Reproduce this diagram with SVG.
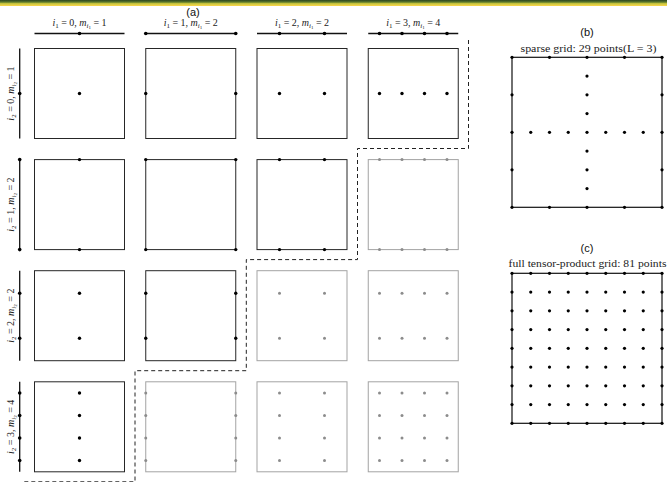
<svg xmlns="http://www.w3.org/2000/svg" xmlns:xlink="http://www.w3.org/1999/xlink" width="667" height="482" viewBox="0 0 667 482">
<defs>
<linearGradient id="bar" x1="0" y1="0" x2="0" y2="1">
<stop offset="0" stop-color="#2c4620"/>
<stop offset="0.35" stop-color="#5d7a2c"/>
<stop offset="0.6" stop-color="#c9c63e"/>
<stop offset="1" stop-color="#fbd64a"/>
</linearGradient>
<g id="row9" class="d">
<circle cx="0" cy="0" r="1.6"/><circle cx="18.75" cy="0" r="1.6"/><circle cx="37.5" cy="0" r="1.6"/><circle cx="56.25" cy="0" r="1.6"/><circle cx="75" cy="0" r="1.6"/><circle cx="93.75" cy="0" r="1.6"/><circle cx="112.5" cy="0" r="1.6"/><circle cx="131.25" cy="0" r="1.6"/><circle cx="150" cy="0" r="1.6"/>
</g>
</defs>
<style>
.bx{fill:none;stroke:#262626;stroke-width:1}
.bxg{fill:none;stroke:#a3a3a3;stroke-width:1}
.bb{fill:none;stroke:#111;stroke-width:1.2}
.d{fill:#000}
.g{fill:#8c8c8c}
.ax{stroke:#111;stroke-width:1.3}
.lb{font-family:"Liberation Serif","Times New Roman",serif;font-size:10px;fill:#222}
.it{font-style:italic}
.sb{font-size:7px}
.ssb{font-size:5px}
.cap{font-family:"Liberation Sans",Arial,sans-serif;font-size:11px;fill:#111}
.dash{fill:none;stroke:#222;stroke-width:1;stroke-dasharray:4 3}
</style>
<rect x="0" y="0" width="667" height="482" fill="#fff"/>
<rect x="0" y="0" width="667" height="6" fill="url(#bar)"/>

<text class="cap" x="193" y="15.5" text-anchor="middle">(a)</text>

<!-- column labels -->
<g id="col-labels" class="lb">
<text x="79.5" y="26" text-anchor="middle"><tspan class="it">i</tspan><tspan class="sb" dy="2">1</tspan><tspan dy="-2"> = 0, </tspan><tspan class="it">m</tspan><tspan class="sb it" dy="2">i</tspan><tspan class="ssb" dy="1.2">1</tspan><tspan dy="-3.2"> = 1</tspan></text>
<text x="190.75" y="26" text-anchor="middle"><tspan class="it">i</tspan><tspan class="sb" dy="2">1</tspan><tspan dy="-2"> = 1, </tspan><tspan class="it">m</tspan><tspan class="sb it" dy="2">i</tspan><tspan class="ssb" dy="1.2">1</tspan><tspan dy="-3.2"> = 2</tspan></text>
<text x="302" y="26" text-anchor="middle"><tspan class="it">i</tspan><tspan class="sb" dy="2">1</tspan><tspan dy="-2"> = 2, </tspan><tspan class="it">m</tspan><tspan class="sb it" dy="2">i</tspan><tspan class="ssb" dy="1.2">1</tspan><tspan dy="-3.2"> = 2</tspan></text>
<text x="413.25" y="26" text-anchor="middle"><tspan class="it">i</tspan><tspan class="sb" dy="2">1</tspan><tspan dy="-2"> = 3, </tspan><tspan class="it">m</tspan><tspan class="sb it" dy="2">i</tspan><tspan class="ssb" dy="1.2">1</tspan><tspan dy="-3.2"> = 4</tspan></text>
</g>

<!-- row labels -->
<g id="row-labels" class="lb">
<text transform="translate(13.5,93.5) rotate(-90)" text-anchor="middle"><tspan class="it">i</tspan><tspan class="sb" dy="2">2</tspan><tspan dy="-2"> = 0, </tspan><tspan class="it">m</tspan><tspan class="sb it" dy="2">i</tspan><tspan class="ssb" dy="1.2">2</tspan><tspan dy="-3.2"> = 1</tspan></text>
<text transform="translate(13.5,204.6) rotate(-90)" text-anchor="middle"><tspan class="it">i</tspan><tspan class="sb" dy="2">2</tspan><tspan dy="-2"> = 1, </tspan><tspan class="it">m</tspan><tspan class="sb it" dy="2">i</tspan><tspan class="ssb" dy="1.2">2</tspan><tspan dy="-3.2"> = 2</tspan></text>
<text transform="translate(13.5,315.7) rotate(-90)" text-anchor="middle"><tspan class="it">i</tspan><tspan class="sb" dy="2">2</tspan><tspan dy="-2"> = 2, </tspan><tspan class="it">m</tspan><tspan class="sb it" dy="2">i</tspan><tspan class="ssb" dy="1.2">2</tspan><tspan dy="-3.2"> = 2</tspan></text>
<text transform="translate(13.5,426.8) rotate(-90)" text-anchor="middle"><tspan class="it">i</tspan><tspan class="sb" dy="2">2</tspan><tspan dy="-2"> = 3, </tspan><tspan class="it">m</tspan><tspan class="sb it" dy="2">i</tspan><tspan class="ssb" dy="1.2">2</tspan><tspan dy="-3.2"> = 4</tspan></text>
</g>

<!-- 1D axes top -->
<g id="axis-x0" transform="translate(34.5,33.5)"><line class="ax" x1="0" y1="0" x2="90" y2="0"/><circle class="d" cx="45" cy="0" r="1.8"/></g>
<g id="axis-x1" transform="translate(145.75,33.5)"><line class="ax" x1="0" y1="0" x2="90" y2="0"/><circle class="d" cx="0" cy="0" r="1.8"/><circle class="d" cx="90" cy="0" r="1.8"/></g>
<g id="axis-x2" transform="translate(257,33.5)"><line class="ax" x1="0" y1="0" x2="90" y2="0"/><circle class="d" cx="22.5" cy="0" r="1.8"/><circle class="d" cx="67.5" cy="0" r="1.8"/></g>
<g id="axis-x3" transform="translate(368.25,33.5)"><line class="ax" x1="0" y1="0" x2="90" y2="0"/><circle class="d" cx="11.25" cy="0" r="1.8"/><circle class="d" cx="33.75" cy="0" r="1.8"/><circle class="d" cx="56.25" cy="0" r="1.8"/><circle class="d" cx="78.75" cy="0" r="1.8"/></g>

<!-- 1D axes left -->
<g id="axis-y0" transform="translate(19.7,48.5)"><line class="ax" x1="0" y1="0" x2="0" y2="90"/><circle class="d" cx="0" cy="45" r="1.8"/></g>
<g id="axis-y1" transform="translate(19.7,159.6)"><line class="ax" x1="0" y1="0" x2="0" y2="90"/><circle class="d" cx="0" cy="0" r="1.8"/><circle class="d" cx="0" cy="90" r="1.8"/></g>
<g id="axis-y2" transform="translate(19.7,270.7)"><line class="ax" x1="0" y1="0" x2="0" y2="90"/><circle class="d" cx="0" cy="22.5" r="1.8"/><circle class="d" cx="0" cy="67.5" r="1.8"/></g>
<g id="axis-y3" transform="translate(19.7,381.8)"><line class="ax" x1="0" y1="0" x2="0" y2="90"/><circle class="d" cx="0" cy="11.25" r="1.8"/><circle class="d" cx="0" cy="33.75" r="1.8"/><circle class="d" cx="0" cy="56.25" r="1.8"/><circle class="d" cx="0" cy="78.75" r="1.8"/></g>

<!-- row 0 -->
<g id="n-r0c0" transform="translate(34.5,48.5)"><rect class="bx" width="90" height="90"/><circle class="d" cx="45" cy="45" r="1.7"/></g>
<g id="n-r0c1" transform="translate(145.75,48.5)"><rect class="bx" width="90" height="90"/><circle class="d" cx="0" cy="45" r="1.7"/><circle class="d" cx="90" cy="45" r="1.7"/></g>
<g id="n-r0c2" transform="translate(257,48.5)"><rect class="bx" width="90" height="90"/><circle class="d" cx="22.5" cy="45" r="1.7"/><circle class="d" cx="67.5" cy="45" r="1.7"/></g>
<g id="n-r0c3" transform="translate(368.25,48.5)"><rect class="bx" width="90" height="90"/><circle class="d" cx="11.25" cy="45" r="1.7"/><circle class="d" cx="33.75" cy="45" r="1.7"/><circle class="d" cx="56.25" cy="45" r="1.7"/><circle class="d" cx="78.75" cy="45" r="1.7"/></g>

<!-- row 1 -->
<g id="n-r1c0" transform="translate(34.5,159.6)"><rect class="bx" width="90" height="90"/><circle class="d" cx="45" cy="0" r="1.7"/><circle class="d" cx="45" cy="90" r="1.7"/></g>
<g id="n-r1c1" transform="translate(145.75,159.6)"><rect class="bx" width="90" height="90"/><circle class="d" cx="0" cy="0" r="1.7"/><circle class="d" cx="90" cy="0" r="1.7"/><circle class="d" cx="0" cy="90" r="1.7"/><circle class="d" cx="90" cy="90" r="1.7"/></g>
<g id="n-r1c2" transform="translate(257,159.6)"><rect class="bx" width="90" height="90"/><circle class="d" cx="22.5" cy="0" r="1.7"/><circle class="d" cx="67.5" cy="0" r="1.7"/><circle class="d" cx="22.5" cy="90" r="1.7"/><circle class="d" cx="67.5" cy="90" r="1.7"/></g>
<g id="n-r1c3" transform="translate(368.25,159.6)"><rect class="bxg" width="90" height="90"/><circle class="g" cx="11.25" cy="0" r="1.5"/><circle class="g" cx="33.75" cy="0" r="1.5"/><circle class="g" cx="56.25" cy="0" r="1.5"/><circle class="g" cx="78.75" cy="0" r="1.5"/><circle class="g" cx="11.25" cy="90" r="1.5"/><circle class="g" cx="33.75" cy="90" r="1.5"/><circle class="g" cx="56.25" cy="90" r="1.5"/><circle class="g" cx="78.75" cy="90" r="1.5"/></g>

<!-- row 2 -->
<g id="n-r2c0" transform="translate(34.5,270.7)"><rect class="bx" width="90" height="90"/><circle class="d" cx="45" cy="22.5" r="1.7"/><circle class="d" cx="45" cy="67.5" r="1.7"/></g>
<g id="n-r2c1" transform="translate(145.75,270.7)"><rect class="bx" width="90" height="90"/><circle class="d" cx="0" cy="22.5" r="1.7"/><circle class="d" cx="90" cy="22.5" r="1.7"/><circle class="d" cx="0" cy="67.5" r="1.7"/><circle class="d" cx="90" cy="67.5" r="1.7"/></g>
<g id="n-r2c2" transform="translate(257,270.7)"><rect class="bxg" width="90" height="90"/><circle class="g" cx="22.5" cy="22.5" r="1.5"/><circle class="g" cx="67.5" cy="22.5" r="1.5"/><circle class="g" cx="22.5" cy="67.5" r="1.5"/><circle class="g" cx="67.5" cy="67.5" r="1.5"/></g>
<g id="n-r2c3" transform="translate(368.25,270.7)"><rect class="bxg" width="90" height="90"/><circle class="g" cx="11.25" cy="22.5" r="1.5"/><circle class="g" cx="33.75" cy="22.5" r="1.5"/><circle class="g" cx="56.25" cy="22.5" r="1.5"/><circle class="g" cx="78.75" cy="22.5" r="1.5"/><circle class="g" cx="11.25" cy="67.5" r="1.5"/><circle class="g" cx="33.75" cy="67.5" r="1.5"/><circle class="g" cx="56.25" cy="67.5" r="1.5"/><circle class="g" cx="78.75" cy="67.5" r="1.5"/></g>

<!-- row 3 -->
<g id="n-r3c0" transform="translate(34.5,381.8)"><rect class="bx" width="90" height="90"/><circle class="d" cx="45" cy="11.25" r="1.7"/><circle class="d" cx="45" cy="33.75" r="1.7"/><circle class="d" cx="45" cy="56.25" r="1.7"/><circle class="d" cx="45" cy="78.75" r="1.7"/></g>
<g id="n-r3c1" transform="translate(145.75,381.8)"><rect class="bxg" width="90" height="90"/><circle class="g" cx="0" cy="11.25" r="1.5"/><circle class="g" cx="0" cy="33.75" r="1.5"/><circle class="g" cx="0" cy="56.25" r="1.5"/><circle class="g" cx="0" cy="78.75" r="1.5"/><circle class="g" cx="90" cy="11.25" r="1.5"/><circle class="g" cx="90" cy="33.75" r="1.5"/><circle class="g" cx="90" cy="56.25" r="1.5"/><circle class="g" cx="90" cy="78.75" r="1.5"/></g>
<g id="n-r3c2" transform="translate(257,381.8)"><rect class="bxg" width="90" height="90"/><circle class="g" cx="22.5" cy="11.25" r="1.5"/><circle class="g" cx="67.5" cy="11.25" r="1.5"/><circle class="g" cx="22.5" cy="33.75" r="1.5"/><circle class="g" cx="67.5" cy="33.75" r="1.5"/><circle class="g" cx="22.5" cy="56.25" r="1.5"/><circle class="g" cx="67.5" cy="56.25" r="1.5"/><circle class="g" cx="22.5" cy="78.75" r="1.5"/><circle class="g" cx="67.5" cy="78.75" r="1.5"/></g>
<g id="n-r3c3" transform="translate(368.25,381.8)"><rect class="bxg" width="90" height="90"/>
<circle class="g" cx="11.25" cy="11.25" r="1.5"/><circle class="g" cx="33.75" cy="11.25" r="1.5"/><circle class="g" cx="56.25" cy="11.25" r="1.5"/><circle class="g" cx="78.75" cy="11.25" r="1.5"/>
<circle class="g" cx="11.25" cy="33.75" r="1.5"/><circle class="g" cx="33.75" cy="33.75" r="1.5"/><circle class="g" cx="56.25" cy="33.75" r="1.5"/><circle class="g" cx="78.75" cy="33.75" r="1.5"/>
<circle class="g" cx="11.25" cy="56.25" r="1.5"/><circle class="g" cx="33.75" cy="56.25" r="1.5"/><circle class="g" cx="56.25" cy="56.25" r="1.5"/><circle class="g" cx="78.75" cy="56.25" r="1.5"/>
<circle class="g" cx="11.25" cy="78.75" r="1.5"/><circle class="g" cx="33.75" cy="78.75" r="1.5"/><circle class="g" cx="56.25" cy="78.75" r="1.5"/><circle class="g" cx="78.75" cy="78.75" r="1.5"/>
</g>

<!-- dashed staircase -->
<g id="connectors">
<path class="dash" d="M468.5,40 V148.5 H357.5 V259.6 H246.3 V370.7 H135 V481.8 H23"/>
</g>

<!-- panel b -->
<g id="panel-b">
<text class="cap" x="587" y="35.5" text-anchor="middle">(b)</text>
<text class="lb" x="588.5" y="52" text-anchor="middle" font-size="11" textLength="136" lengthAdjust="spacingAndGlyphs">sparse grid: 29 points(L = 3)</text>
<g transform="translate(512,57.3)">
<rect class="bb" width="150" height="150"/>
<g class="d">
<circle cx="75" cy="0" r="1.6"/><circle cx="75" cy="18.75" r="1.6"/><circle cx="75" cy="37.5" r="1.6"/><circle cx="75" cy="56.25" r="1.6"/><circle cx="75" cy="75" r="1.6"/><circle cx="75" cy="93.75" r="1.6"/><circle cx="75" cy="112.5" r="1.6"/><circle cx="75" cy="131.25" r="1.6"/><circle cx="75" cy="150" r="1.6"/>
<circle cx="0" cy="0" r="1.6"/><circle cx="0" cy="37.5" r="1.6"/><circle cx="0" cy="75" r="1.6"/><circle cx="0" cy="112.5" r="1.6"/><circle cx="0" cy="150" r="1.6"/>
<circle cx="150" cy="0" r="1.6"/><circle cx="150" cy="37.5" r="1.6"/><circle cx="150" cy="75" r="1.6"/><circle cx="150" cy="112.5" r="1.6"/><circle cx="150" cy="150" r="1.6"/>
<circle cx="37.5" cy="0" r="1.6"/><circle cx="37.5" cy="75" r="1.6"/><circle cx="37.5" cy="150" r="1.6"/>
<circle cx="112.5" cy="0" r="1.6"/><circle cx="112.5" cy="75" r="1.6"/><circle cx="112.5" cy="150" r="1.6"/>
<circle cx="18.75" cy="75" r="1.6"/><circle cx="56.25" cy="75" r="1.6"/><circle cx="93.75" cy="75" r="1.6"/><circle cx="131.25" cy="75" r="1.6"/>
</g>
</g>
</g>

<!-- panel c -->
<g id="panel-c">
<text class="cap" x="587" y="252" text-anchor="middle">(c)</text>
<text class="lb" x="587.5" y="266.5" text-anchor="middle" font-size="11" textLength="158" lengthAdjust="spacingAndGlyphs">full tensor-product grid: 81 points</text>
<g transform="translate(512,273.3)">
<rect class="bb" width="150" height="150"/>
<use xlink:href="#row9" y="0"/><use xlink:href="#row9" y="18.75"/><use xlink:href="#row9" y="37.5"/><use xlink:href="#row9" y="56.25"/><use xlink:href="#row9" y="75"/><use xlink:href="#row9" y="93.75"/><use xlink:href="#row9" y="112.5"/><use xlink:href="#row9" y="131.25"/><use xlink:href="#row9" y="150"/>
</g>
</g>
</svg>
